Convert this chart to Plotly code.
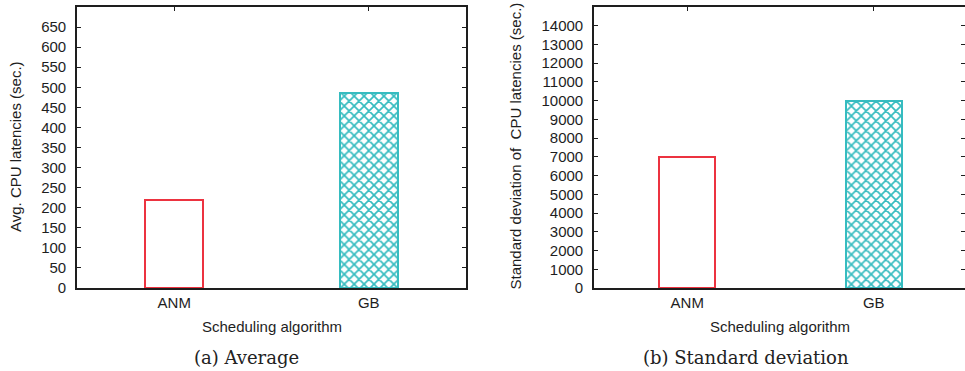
import plotly.graph_objects as go

# Scheduling algorithms compared
algorithms = ["ANM", "GB"]
# Average CPU latency per algorithm (sec.)
avg_latency = [220, 487]
# Standard deviation of CPU latency per algorithm (sec.)
std_latency = [7000, 10000]

avg_ticks = list(range(0, 651, 50))
std_ticks = list(range(0, 14001, 1000))

W, H = 965, 371
RED = "#ec3340"
CYAN = "#36bcc0"
AXIS = "#1e1e1e"
SANS = "Liberation Sans, Arial, sans-serif"
SERIF = "DejaVu Serif, serif"


def px_x(p):
    return p / W


def px_y(p):
    return 1 - p / H


bar_styles = [
    dict(color="white", line=dict(color=RED, width=2)),
    dict(color="white", line=dict(color=CYAN, width=2),
         pattern=dict(shape="x", fgcolor=CYAN, bgcolor="white", size=7, solidity=0.42)),
]

fig = go.Figure()

# Left panel: average latency
for i, name in enumerate(algorithms):
    fig.add_trace(go.Bar(x=[i], y=[avg_latency[i]], width=0.3, marker=bar_styles[i],
                         xaxis="x", yaxis="y", showlegend=False))

# Right panel: standard deviation of latency
for i, name in enumerate(algorithms):
    fig.add_trace(go.Bar(x=[i], y=[std_latency[i]], width=0.3, marker=bar_styles[i],
                         xaxis="x2", yaxis="y2", showlegend=False))

tickfont = dict(family=SANS, size=15, color=AXIS)
common_x = dict(tickmode="array", tickvals=[0, 1], ticktext=algorithms, ticks="inside",
                ticklen=4, tickcolor=AXIS, showline=True, linecolor=AXIS, linewidth=1.6,
                mirror="ticks", showgrid=False, zeroline=False, tickfont=tickfont,
                layer="below traces", fixedrange=True, automargin=False)
common_y = dict(tickmode="array", ticks="inside", ticklen=4, tickcolor=AXIS,
                showline=True, linecolor=AXIS, linewidth=1.6, showgrid=False,
                zeroline=False, tickfont=tickfont, layer="below traces",
                ticklabelstandoff=6, fixedrange=True, automargin=False)

y_bot, y_top = px_y(288), px_y(7)

fig.update_layout(
    template="none",
    width=W, height=H,
    autosize=False,
    margin=dict(l=0, r=0, t=0, b=0, pad=0),
    paper_bgcolor="white", plot_bgcolor="white",
    bargap=0,
    xaxis=dict(common_x, domain=[px_x(77), px_x(466)], range=[-0.5, 1.5], anchor="y"),
    yaxis=dict(common_y, domain=[y_bot, y_top], range=[0, 700], anchor="x",
               tickvals=avg_ticks, ticktext=[str(v) for v in avg_ticks], mirror="ticks"),
    xaxis2=dict(common_x, domain=[px_x(594), 1.0], range=[-0.5, 1.489], anchor="y2"),
    yaxis2=dict(common_y, domain=[y_bot, y_top], range=[0, 15000], anchor="x2",
                tickvals=std_ticks, ticktext=[str(v) for v in std_ticks], mirror=False),
    # inward tick marks along the right edge of the second panel
    yaxis3=dict(overlaying="y2", side="right", anchor="free", position=1.0,
                range=[0, 15000], tickmode="array", tickvals=std_ticks,
                ticks="inside", ticklen=4, tickcolor=AXIS, showline=False,
                showticklabels=False, showgrid=False, zeroline=False, fixedrange=True,
                automargin=False),
)

# keep yaxis3 drawn by attaching an invisible trace
fig.add_trace(go.Scatter(x=[0], y=[0], xaxis="x2", yaxis="y3", mode="markers",
                         marker=dict(opacity=0), hoverinfo="skip", showlegend=False))

title_font = dict(family=SANS, size=15, color=AXIS)
cap_font = dict(family=SERIF, size=18, color="#222222")
annotations = [
    dict(text="Avg. CPU latencies (sec.)", x=px_x(15), y=px_y(147), textangle=-90, font=title_font),
    dict(text="Standard deviation of  CPU latencies (sec.)", x=px_x(515), y=px_y(146.5),
         textangle=-90, font=title_font),
    dict(text="Scheduling algorithm", x=px_x(271.5), y=px_y(326), font=title_font),
    dict(text="Scheduling algorithm", x=px_x(780), y=px_y(326), font=title_font),
    dict(text="(a) Average", x=px_x(246), y=px_y(357), font=cap_font),
    dict(text="(b) Standard deviation", x=px_x(745.5), y=px_y(357), font=cap_font),
]
for a in annotations:
    a.update(xref="paper", yref="paper", xanchor="center", yanchor="middle",
             showarrow=False)
fig.update_layout(annotations=annotations)

fig.write_html("out.html")
